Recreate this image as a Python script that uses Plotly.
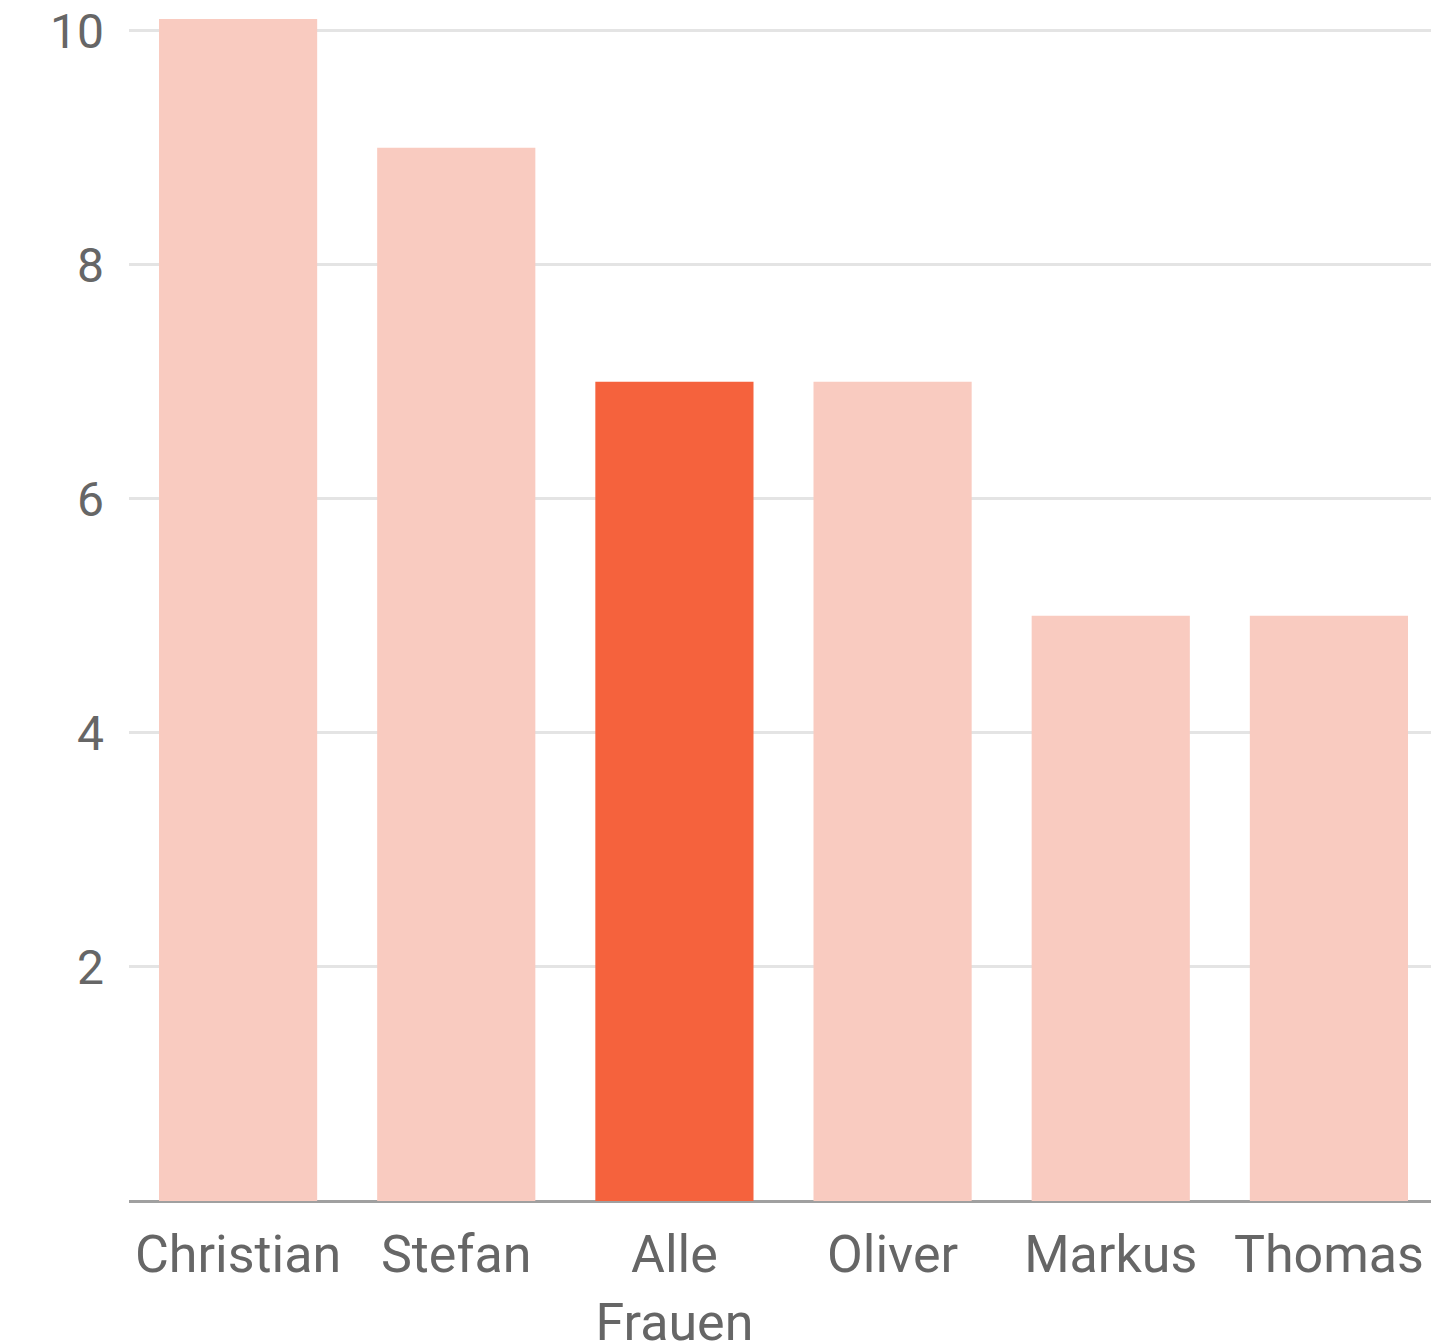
import plotly.graph_objects as go

categories = ["Christian", "Stefan", "Alle<br>Frauen", "Oliver", "Markus", "Thomas"]
values = [10.1, 9, 7, 7, 5, 5]
highlight = "Alle<br>Frauen"

light = "#F9CBC0"
strong = "#F5623D"
colors = [strong if c == highlight else light for c in categories]

fig = go.Figure(go.Bar(x=categories, y=values, marker=dict(color=colors, line=dict(width=0))))

fig.update_layout(
    width=1431, height=1335,
    margin=dict(l=121, r=1, t=11, b=142),
    paper_bgcolor="white", plot_bgcolor="white",
    bargap=0.275,
    showlegend=False,
    font=dict(family="Roboto", color="#666666", size=50),
)
fig.update_xaxes(
    showgrid=False, showline=False, ticks="", tickfont=dict(size=52, color="#666666"),
    ticklabelstandoff=18, automargin=False,
)
fig.update_yaxes(
    range=[0, 10.1], tickvals=[2, 4, 6, 8, 10], showgrid=True, gridcolor="#e4e4e4", gridwidth=3,
    zeroline=True, zerolinecolor="#a0a0a0", zerolinewidth=3,
    tickfont=dict(size=48, color="#666666"), ticklabelstandoff=24, showline=False,
    ticklabeloverflow="allow", automargin=False,
)
fig.write_html("out.html")
